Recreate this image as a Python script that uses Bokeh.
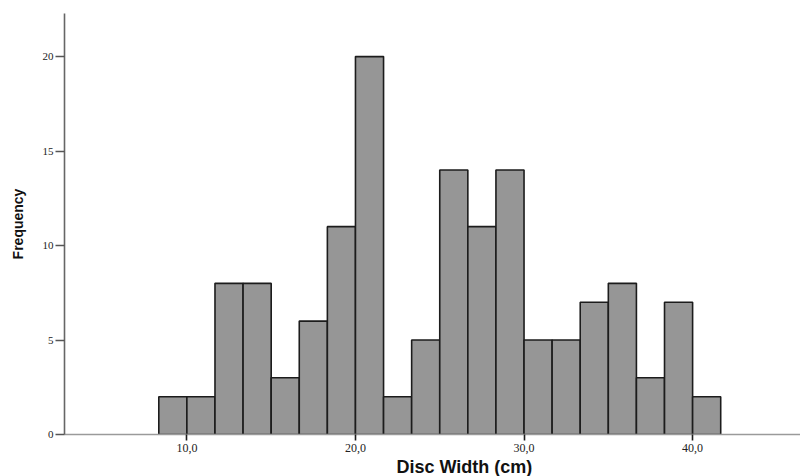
from bokeh.plotting import figure
from bokeh.models import Range1d, FixedTicker, Title
from bokeh.embed import file_html
from bokeh.resources import INLINE

# Data
bin_start = 25 / 3          # left edge of first bin (cm)
bin_width = 5 / 3           # bin width (cm)
counts = [2, 2, 8, 8, 3, 6, 11, 20, 2, 5, 14, 11, 14, 5, 5, 7, 8, 3, 7, 2]
x_ticks = [10, 20, 30, 40]
x_tick_labels = ["10,0", "20,0", "30,0", "40,0"]
y_ticks = [0, 5, 10, 15, 20]

lefts = [bin_start + i * bin_width for i in range(len(counts))]
rights = [l + bin_width for l in lefts]
bottoms = [0] * len(counts)

p = figure(frame_width=736, frame_height=421,
           x_range=Range1d(2.74, 46.4), y_range=Range1d(0, 22.28),
           output_backend="svg", toolbar_location=None,
           min_border_left=64, min_border_top=13, min_border_right=0,
           min_border_bottom=0)
p.background_fill_color = "white"
p.border_fill_color = "white"
p.outline_line_color = None
p.grid.visible = False

p.quad(left=lefts, right=rights, bottom=bottoms, top=counts,
       fill_color="#969696", line_color="#1c1c1c", line_width=1.6)

# x axis
xa = p.xaxis[0]
xa.ticker = FixedTicker(ticks=x_ticks)
xa.major_label_overrides = {t: s for t, s in zip(x_ticks, x_tick_labels)}
xa.axis_line_color = "#9a9a9a"
xa.axis_line_width = 1.5
xa.major_tick_line_color = "#1c1c1c"
xa.major_tick_line_width = 1.6
xa.major_tick_out = 6
xa.major_tick_in = 0
xa.minor_tick_line_color = None
xa.major_label_standoff = 3
xa.major_label_text_font = "Liberation Serif"
xa.major_label_text_font_size = "12px"
xa.major_label_text_color = "#222222"

# y axis
ya = p.yaxis[0]
ya.ticker = FixedTicker(ticks=y_ticks)
ya.axis_line_color = "#666666"
ya.axis_line_width = 1.6
ya.major_tick_line_color = "#555555"
ya.major_tick_line_width = 1.5
ya.major_tick_out = 9
ya.major_tick_in = 0
ya.minor_tick_line_color = None
ya.major_label_standoff = 2
ya.major_label_text_font = "Liberation Serif"
ya.major_label_text_font_size = "11px"
ya.major_label_text_color = "#222222"
ya.axis_label = "Frequency"
ya.axis_label_text_font = "Liberation Sans"
ya.axis_label_text_font_style = "bold"
ya.axis_label_text_font_size = "14px"
ya.axis_label_text_color = "#111111"
ya.axis_label_standoff = 14

xlabel = Title(text="Disc Width (cm)", align="left", offset=332, standoff=0,
               text_font="Liberation Sans", text_font_style="bold",
               text_font_size="18px", text_color="#111111")
p.add_layout(xlabel, "below")

open("out.html", "w").write(file_html(p, INLINE))
